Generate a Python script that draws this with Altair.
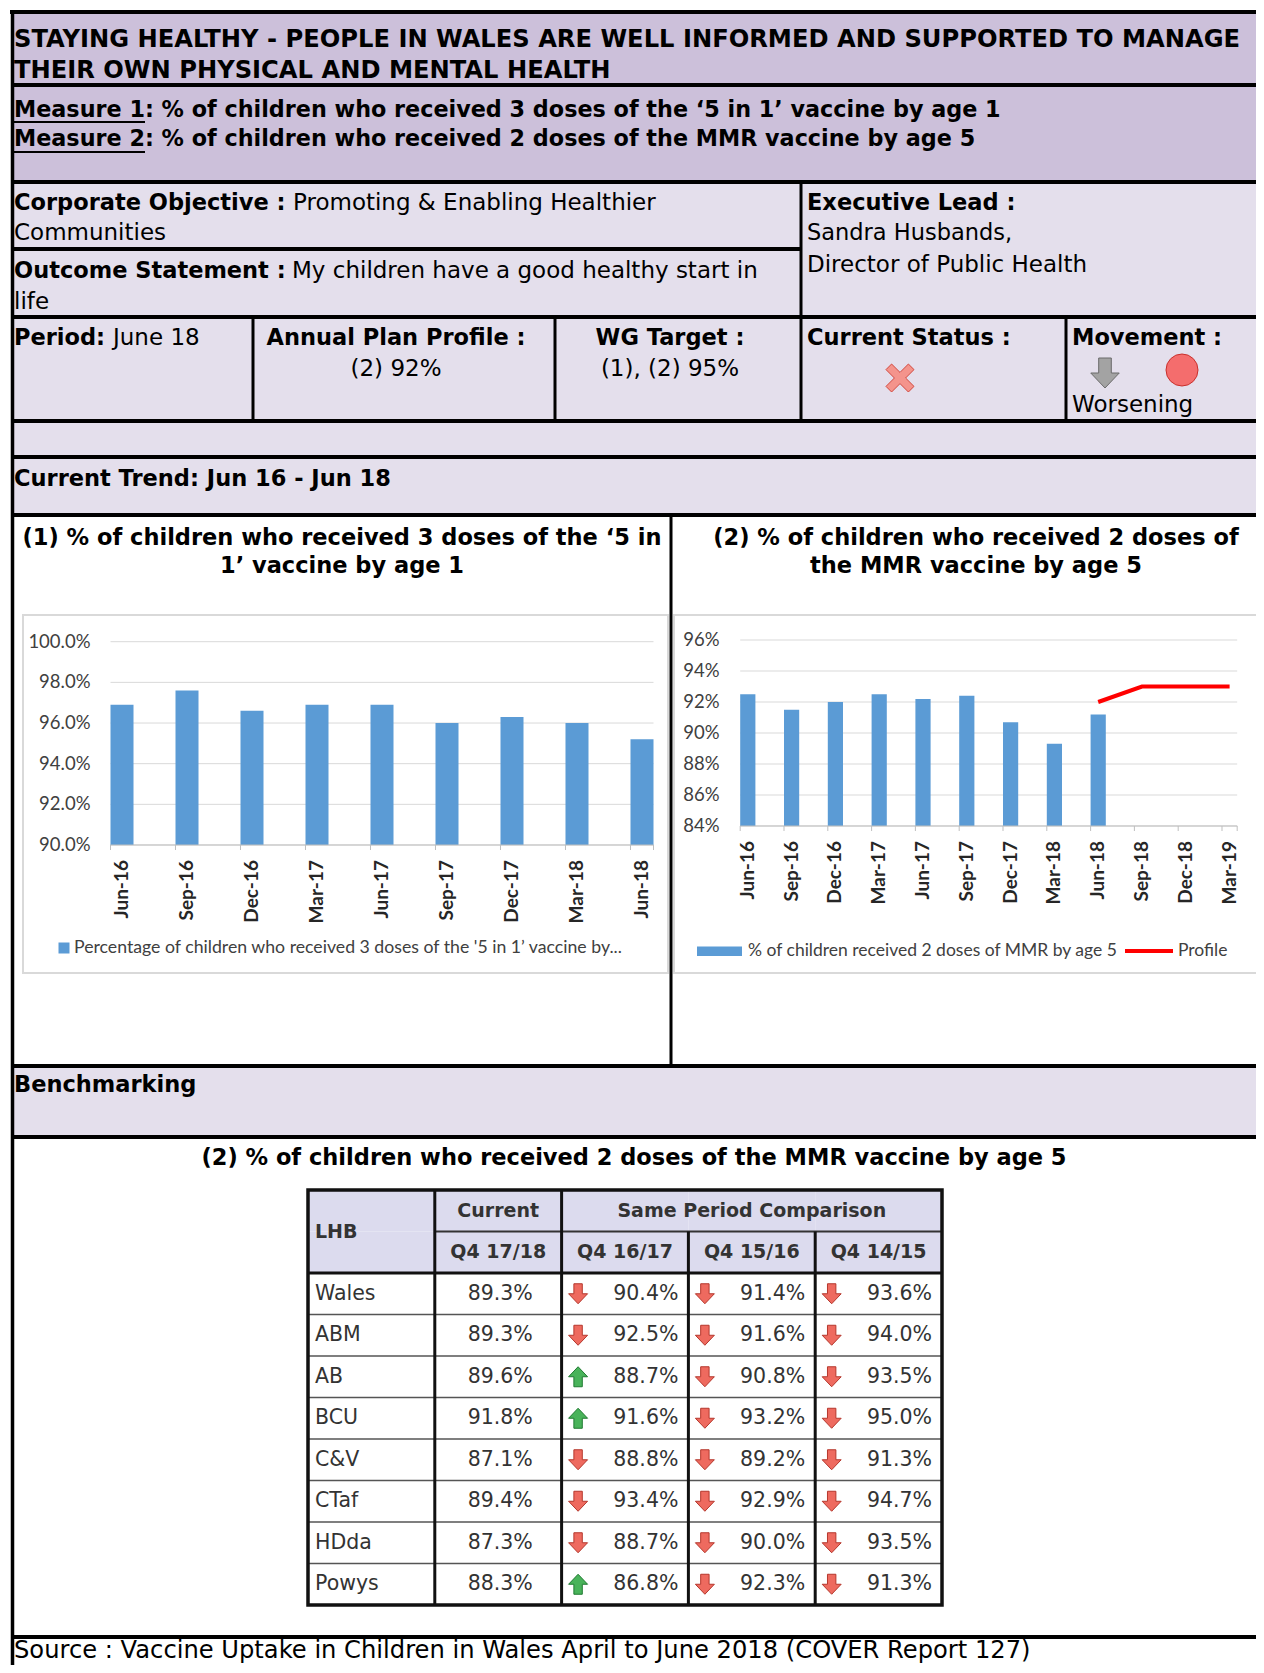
import altair as alt
import pandas as pd

# ---------------- data ----------------
periods1 = ["Jun-16", "Sep-16", "Dec-16", "Mar-17", "Jun-17", "Sep-17", "Dec-17", "Mar-18", "Jun-18"]
five_in_one = [96.9, 97.6, 96.6, 96.9, 96.9, 96.0, 96.3, 96.0, 95.2]
ticks1 = [90, 92, 94, 96, 98, 100]
tick_labels1 = ["90.0%", "92.0%", "94.0%", "96.0%", "98.0%", "100.0%"]

periods2 = periods1 + ["Sep-18", "Dec-18", "Mar-19"]
mmr = [92.5, 91.5, 92.0, 92.5, 92.2, 92.4, 90.7, 89.3, 91.2]
profile_periods = ["Jun-18", "Sep-18", "Dec-18", "Mar-19"]
profile = [92.0, 93.0, 93.0, 93.0]
ticks2 = [84, 86, 88, 90, 92, 94, 96]
tick_labels2 = ["84%", "86%", "88%", "90%", "92%", "94%", "96%"]

lhb = ["Wales", "ABM", "AB", "BCU", "C&V", "CTaf", "HDda", "Powys"]
q4_1718 = [89.3, 89.3, 89.6, 91.8, 87.1, 89.4, 87.3, 88.3]
q4_1617 = [90.4, 92.5, 88.7, 91.6, 88.8, 93.4, 88.7, 86.8]
q4_1516 = [91.4, 91.6, 90.8, 93.2, 89.2, 92.9, 90.0, 92.3]
q4_1415 = [93.6, 94.0, 93.5, 95.0, 91.3, 94.7, 93.5, 91.3]
table_cols = ["LHB", "Q4 17/18", "Q4 16/17", "Q4 15/16", "Q4 14/15"]

# ---------------- layout helpers ----------------
W, H = 1248, 1657
OX, OY = 8, 8


def X(v):
    return v - OX


def Y(v):
    return v - OY


AR = "DejaVu Sans"
CAL = "Lato"
FS = 22.5
PURPLE = "#ccc0da"
LAV = "#e4dfec"
BLUE = "#5b9bd5"
HEAD = "#dcdbee"
AXC = "#bfbfbf"

one = pd.DataFrame({"k": [0]})


def rect(x0, y0, x1, y1, **kw):
    return alt.Chart(one).mark_rect(**kw).encode(
        x=alt.value(X(x0)), x2=alt.value(X(x1)), y=alt.value(Y(y0)), y2=alt.value(Y(y1)))


def line(x0, y0, x1, y1, w=4, color="#000000"):
    return alt.Chart(one).mark_rule(color=color, strokeWidth=w).encode(
        x=alt.value(X(x0)), x2=alt.value(X(x1)), y=alt.value(Y(y0)), y2=alt.value(Y(y1)))


def txt(s, x, y, bold=False, align="left", size=FS, font=AR, color="#000000", baseline="alphabetic"):
    return alt.Chart(one).mark_text(
        text=s, align=align, baseline=baseline, font=font, fontSize=size,
        fontWeight="bold" if bold else "normal", color=color
    ).encode(x=alt.value(X(x)), y=alt.value(Y(y)))


def sym(shape, x, y, size, fill, stroke, sw=1.0):
    return alt.Chart(one).mark_point(
        shape=shape, filled=True, fill=fill, stroke=stroke, strokeWidth=sw, size=size,
        opacity=1, fillOpacity=1, strokeOpacity=1
    ).encode(x=alt.value(X(x)), y=alt.value(Y(y)))


DOWN = "M-0.42,-1 L0.42,-1 L0.42,0 L0.95,0 L0,1 L-0.95,0 L-0.42,0 Z"
UP = "M-0.42,1 L0.42,1 L0.42,0 L0.95,0 L0,-1 L-0.95,0 L-0.42,0 Z"
CROSS = ("M-1,-0.6 L-0.6,-1 L0,-0.4 L0.6,-1 L1,-0.6 L0.4,0 L1,0.6 L0.6,1 "
         "L0,0.4 L-0.6,1 L-1,0.6 L-0.4,0 Z")

# ---------------- frame ----------------
fills = [
    rect(12, 12, 1264, 182, fill=PURPLE),
    rect(12, 182, 1264, 515, fill=LAV),
    rect(12, 1066, 1264, 1137, fill=LAV),
    rect(23, 615, 668, 973, fill="#ffffff", stroke="#d9d9d9", strokeWidth=2),
    rect(674, 615, 1275, 973, fill="#ffffff", stroke="#d9d9d9", strokeWidth=2),
]

lines = [line(10, 12, 1264, 12, 4), line(12.5, 10, 12.5, 1680, 3.5)]
for yy in [85, 182, 317, 421, 457, 515, 1066, 1137, 1637]:
    lines.append(line(12, yy, 1264, yy, 4))
lines += [
    line(12, 249, 801, 249, 4),
    line(801, 182, 801, 421, 3),
    line(253, 317, 253, 421, 3),
    line(555, 317, 555, 421, 3),
    line(1066, 317, 1066, 421, 3),
    line(671, 515, 671, 1066, 3),
    line(14, 122, 145, 122, 2),
    line(14, 152, 145, 152, 2),
]

texts = [
    txt("STAYING HEALTHY - PEOPLE IN WALES ARE WELL INFORMED AND SUPPORTED TO MANAGE", 14, 46.5, True, size=24.2),
    txt("THEIR OWN PHYSICAL AND MENTAL HEALTH", 14, 77.5, True, size=24.2),
    txt("Measure 1: % of children who received 3 doses of the \u20185 in 1\u2019 vaccine by age 1", 14, 116.5, True,
        size=22.3),
    txt("Measure 2: % of children who received 2 doses of the MMR vaccine by age 5", 14, 146, True, size=22.3),
    txt("Corporate Objective :", 14, 209.5, True),
    txt("Promoting & Enabling Healthier", 293, 209.5, size=23),
    txt("Communities", 14, 240, size=23),
    txt("Outcome Statement :", 14, 277.5, True),
    txt("My children have a good healthy start in", 292, 277.5, size=23),
    txt("life", 14, 308.5, size=23),
    txt("Executive Lead :", 807, 209.5, True),
    txt("Sandra Husbands,", 807, 240),
    txt("Director of Public Health", 807, 271.5, size=23),
    txt("Period:", 14, 345, True),
    txt("June 18", 113, 345, size=23),
    txt("Annual Plan Profile :", 396, 345, True, "center"),
    txt("(2) 92%", 396, 376, False, "center", size=23),
    txt("WG Target :", 670, 345, True, "center"),
    txt("(1), (2) 95%", 670, 376, False, "center", size=23),
    txt("Current Status :", 807, 345, True),
    txt("Movement :", 1072, 345, True),
    txt("Worsening", 1072, 411.5, size=23),
    txt("Current Trend: Jun 16 - Jun 18", 14, 486, True),
    txt("(1) % of children who received 3 doses of the \u20185 in", 342, 545, True, "center"),
    txt("1\u2019 vaccine by age 1", 342, 573, True, "center"),
    txt("(2) % of children who received 2 doses of", 976, 545, True, "center"),
    txt("the MMR vaccine by age 5", 976, 573, True, "center"),
    txt("Benchmarking", 14, 1092, True),
    txt("(2) % of children who received 2 doses of the MMR vaccine by age 5", 634, 1165, True, "center"),
    txt("Source : Vaccine Uptake in Children in Wales April to June 2018 (COVER Report 127)", 14, 1658,
        size=24.2),
    # chart legends
    txt("Percentage of children who received 3 doses of the '5 in 1\u2019 vaccine by...", 74, 948, False,
        size=17.7, font=CAL, color="#404040", baseline="middle"),
    txt("% of children received 2 doses of MMR by age 5", 748, 951, False,
        size=17.5, font=CAL, color="#404040", baseline="middle"),
    txt("Profile", 1178, 951, False, size=17.5, font=CAL, color="#404040", baseline="middle"),
]

icons = [
    sym(CROSS, 900, 378, 784, "#f4948c", "#d2473d", 1),
    sym(DOWN, 1105, 373, 900, "#a3a3a3", "#6b6b6b", 1),
    sym("circle", 1182, 370, 1024, "#f46d6d", "#c9302c", 1),
    sym("square", 64, 948, 121, BLUE, BLUE, 0),
    rect(697, 946.5, 742, 956, fill=BLUE),
    line(1125, 951, 1173, 951, 4, "#ff0000"),
]


# ---------------- charts (axes drawn through the same scales) ----------------
def bar_panel(periods, values, ticks, labels, x0, x1, ybase, ytop, dom, pad_inner, label_right, extra=None):
    xs = alt.Scale(type="band", domain=periods, range=[X(x0), X(x1)], paddingInner=pad_inner, paddingOuter=0)
    ys = alt.Scale(domain=dom, range=[Y(ybase), Y(ytop)], clamp=True, zero=False, nice=False)
    gdf = pd.DataFrame({"t": ticks, "label": labels})
    pdf = pd.DataFrame({"period": periods})
    bdf = pd.DataFrame({"period": periods[:len(values)], "value": values})
    grid = alt.Chart(gdf).mark_rule(color="#d9d9d9", strokeWidth=1).encode(
        y=alt.Y("t:Q", scale=ys, axis=None), x=alt.value(X(x0)), x2=alt.value(X(x1)))
    ylab = alt.Chart(gdf).mark_text(align="right", baseline="middle", font=CAL, fontSize=18.5,
                                    color="#404040").encode(
        y=alt.Y("t:Q", scale=ys, axis=None), x=alt.value(X(label_right)), text="label:N")
    bars = alt.Chart(bdf).mark_bar(color=BLUE).encode(
        x=alt.X("period:N", scale=xs, axis=None),
        y=alt.Y("value:Q", scale=ys, axis=None))
    domain = alt.Chart(gdf.head(1)).mark_rule(color=AXC, strokeWidth=1).encode(
        y=alt.Y("t:Q", scale=ys, axis=None), x=alt.value(X(x0)), x2=alt.value(X(x1)))
    tick = alt.Chart(pdf).mark_rule(color=AXC, strokeWidth=1).encode(
        x=alt.X("period:N", scale=xs, axis=None, bandPosition=0),
        y=alt.value(Y(ybase)), y2=alt.value(Y(ybase + 5)))
    tick_end = alt.Chart(pdf.tail(1)).mark_rule(color=AXC, strokeWidth=1).encode(
        x=alt.X("period:N", scale=xs, axis=None, bandPosition=1),
        y=alt.value(Y(ybase)), y2=alt.value(Y(ybase + 5)))
    xlab = alt.Chart(pdf).mark_text(angle=270, align="right", baseline="middle", font=CAL, fontSize=19,
                                    fontWeight="bold", color="#262626").encode(
        x=alt.X("period:N", scale=xs, axis=None), y=alt.value(Y(ybase + 15)), text="period:N")
    layers = [grid, bars, domain, tick, tick_end, ylab, xlab]
    if extra is not None:
        pf, pv = extra
        edf = pd.DataFrame({"period": pf, "value": pv})
        layers.append(alt.Chart(edf).mark_line(color="#ff0000", strokeWidth=4).encode(
            x=alt.X("period:N", scale=xs, axis=None),
            y=alt.Y("value:Q", scale=ys, axis=None)))
    return alt.layer(*layers)


chart1 = bar_panel(periods1, five_in_one, ticks1, tick_labels1, 110.5, 653.5, 845, 641.7, [90, 100],
                   0.646, 90.5)
chart2 = bar_panel(periods2, mmr, ticks2, tick_labels2, 740.2, 1237.2, 826, 640, [84, 96],
                   0.653, 719.5, extra=(profile_periods, profile))

# ---------------- table ----------------
rows = ["h1", "h2"] + lhb
TX0, TX1, TY0, TY1 = 308, 942, 1190, 1605
txs = alt.Scale(type="band", domain=table_cols, range=[X(TX0), X(TX1)], paddingInner=0, paddingOuter=0)
tys = alt.Scale(type="band", domain=rows, range=[Y(TY0), Y(TY1)], paddingInner=0, paddingOuter=0)


def tx(band=0.5):
    return alt.X("col:N", scale=txs, axis=None, bandPosition=band)


def ty(band=0.5):
    return alt.Y("row:N", scale=tys, axis=None, bandPosition=band)


cells = pd.DataFrame([{"col": c, "row": r, "kind": "head" if r in ("h1", "h2") else "body"}
                      for r in rows for c in table_cols])
cell_layer = alt.Chart(cells).mark_rect().encode(
    x=alt.X("col:N", scale=txs, axis=None), y=alt.Y("row:N", scale=tys, axis=None),
    color=alt.Color("kind:N", scale=alt.Scale(domain=["head", "body"], range=[HEAD, "#ffffff"]), legend=None))

hl_thin = alt.Chart(pd.DataFrame({"row": lhb[1:]})).mark_rule(color="#555555", strokeWidth=1.5).encode(
    y=ty(0), x=alt.value(X(TX0)), x2=alt.value(X(TX1)))
hl_head = alt.Chart(pd.DataFrame({"row": [lhb[0]]})).mark_rule(color="#111111", strokeWidth=3).encode(
    y=ty(0), x=alt.value(X(TX0)), x2=alt.value(X(TX1)))
hl_mid = alt.Chart(pd.DataFrame({"row": ["h2"], "col": [table_cols[1]]})).mark_rule(
    color="#333333", strokeWidth=2).encode(y=ty(0), x=tx(0), x2=alt.value(X(TX1)))
vl_full = alt.Chart(pd.DataFrame({"col": table_cols[1:3]})).mark_rule(color="#111111", strokeWidth=3).encode(
    x=tx(0), y=alt.value(Y(TY0)), y2=alt.value(Y(TY1)))
vl_part = alt.Chart(pd.DataFrame({"col": table_cols[3:], "row": ["h2", "h2"]})).mark_rule(
    color="#111111", strokeWidth=3).encode(x=tx(0), y=ty(0), y2=alt.value(Y(TY1)))

names = pd.DataFrame({"col": ["LHB"] * len(lhb), "row": lhb, "text": lhb})
cur = pd.DataFrame({"col": ["Q4 17/18"] * len(lhb), "row": lhb, "text": [f"{v:.1f}%" for v in q4_1718]})
comp_rows = []
for c, vals in zip(table_cols[2:], [q4_1617, q4_1516, q4_1415]):
    for i, r in enumerate(lhb):
        comp_rows.append({"col": c, "row": r, "text": f"{vals[i]:.1f}%",
                          "dir": "up" if q4_1718[i] > vals[i] else "down"})
comp = pd.DataFrame(comp_rows)

TFONT = dict(font=AR, fontSize=20.5, color="#333333", baseline="middle")
name_layer = alt.Chart(names).mark_text(align="left", dx=7, **TFONT).encode(x=tx(0), y=ty(), text="text:N")
cur_layer = alt.Chart(cur).mark_text(align="center", dx=2, **TFONT).encode(x=tx(), y=ty(), text="text:N")
comp_layer = alt.Chart(comp).mark_text(align="right", dx=-10, **TFONT).encode(x=tx(1), y=ty(), text="text:N")
down_layer = alt.Chart(comp).transform_filter("datum.dir == 'down'").mark_point(
    shape=DOWN, filled=True, fill="#ee6a5f", stroke="#b5372c", strokeWidth=1, size=400,
    opacity=1, fillOpacity=1, strokeOpacity=1).encode(x=tx(0.13), y=ty())
up_layer = alt.Chart(comp).transform_filter("datum.dir == 'up'").mark_point(
    shape=UP, filled=True, fill="#49b35a", stroke="#1f7a31", strokeWidth=1, size=400,
    opacity=1, fillOpacity=1, strokeOpacity=1).encode(x=tx(0.13), y=ty())

HFONT = dict(font=AR, fontSize=19, fontWeight="bold", color="#333333", baseline="middle")
head1 = pd.DataFrame({"col": [table_cols[1], table_cols[3]], "row": ["h1", "h1"],
                      "text": ["Current", "Same Period Comparison"]})
head2 = pd.DataFrame({"col": table_cols[1:], "row": ["h2"] * 4, "text": table_cols[1:]})
head_lhb = pd.DataFrame({"col": ["LHB"], "row": ["h2"], "text": ["LHB"]})
h1_layer = alt.Chart(head1).mark_text(align="center", **HFONT).encode(x=tx(), y=ty(), text="text:N")
h2_layer = alt.Chart(head2).mark_text(align="center", **HFONT).encode(x=tx(), y=ty(), text="text:N")
hl_layer = alt.Chart(head_lhb).mark_text(align="left", dx=7, **HFONT).encode(x=tx(0), y=ty(0), text="text:N")

table = alt.layer(cell_layer, hl_thin, hl_mid, vl_full, vl_part, hl_head,
                  name_layer, cur_layer, comp_layer, down_layer, up_layer,
                  h1_layer, h2_layer, hl_layer)
border = rect(TX0, TY0, TX1, TY1, fillOpacity=0, stroke="#111111", strokeWidth=3.5)

chart = alt.layer(
    *fills, chart1, chart2, table, border, *lines, *texts, *icons
).resolve_scale(
    x="independent", y="independent", color="independent"
).properties(
    width=W, height=H, padding=0, autosize=alt.AutoSizeParams(type="none")
).configure_view(strokeWidth=0)

chart.save("out.html", embed_options={"renderer": "svg", "actions": False})
